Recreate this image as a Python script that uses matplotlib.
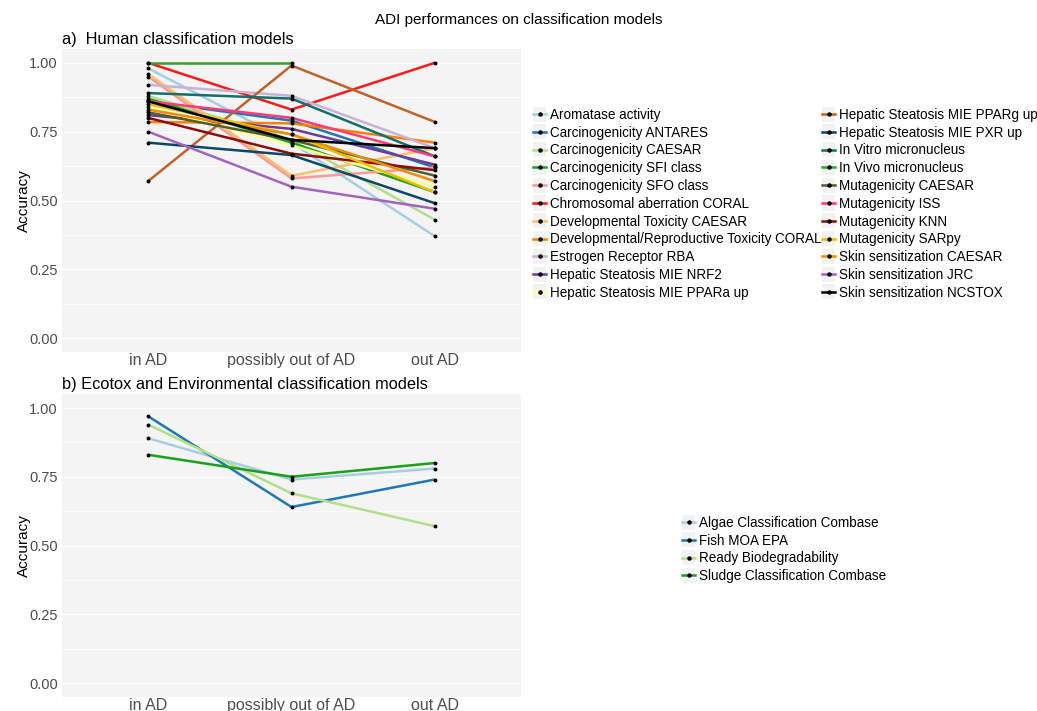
import matplotlib
matplotlib.use("Agg")
import matplotlib.pyplot as plt
import numpy as np
from matplotlib.lines import Line2D
from matplotlib.patches import Rectangle
from matplotlib.legend_handler import HandlerLine2D

plt.rcParams['font.family'] = ['Liberation Sans', 'DejaVu Sans']

categories = ["in AD", "possibly out of AD", "out AD"]

# a) human models: accuracy in AD / possibly out of AD / out AD
human_names = [
    "Aromatase activity", "Carcinogenicity ANTARES", "Carcinogenicity CAESAR",
    "Carcinogenicity SFI class", "Carcinogenicity SFO class",
    "Chromosomal aberration CORAL", "Developmental Toxicity CAESAR",
    "Developmental/Reproductive Toxicity CORAL", "Estrogen Receptor RBA",
    "Hepatic Steatosis MIE NRF2", "Hepatic Steatosis MIE PPARa up",
    "Hepatic Steatosis MIE PPARg up", "Hepatic Steatosis MIE PXR up",
    "In Vitro micronucleus", "In Vivo micronucleus", "Mutagenicity CAESAR",
    "Mutagenicity ISS", "Mutagenicity KNN", "Mutagenicity SARpy",
    "Skin sensitization CAESAR", "Skin sensitization JRC",
    "Skin sensitization NCSTOX",
]
human_in = [0.98, 0.86, 0.88, 0.87, 0.95, 1.00, 0.96, 0.785, 0.92, 0.81, 0.84,
            0.57, 0.71, 0.89, 1.00, 0.82, 0.86, 0.80, 0.85, 0.83, 0.75, 0.86]
human_pos = [0.71, 0.79, 0.72, 0.71, 0.58, 0.83, 0.59, 0.78, 0.88, 0.76, 0.70,
             0.99, 0.665, 0.87, 1.00, 0.72, 0.80, 0.67, 0.74, 0.74, 0.55, 0.72]
human_out = [0.37, 0.62, 0.43, 0.53, 0.62, 1.00, 0.69, 0.71, 0.69, 0.63, 0.55,
             0.785, 0.49, 0.66, np.nan, 0.59, 0.66, 0.61, 0.53, 0.57, 0.47, 0.69]
human_colors = [
    "#a6cee3", "#1f78b4", "#b2df8a", "#1f9e1f", "#fb9a99", "#ff1a1a",
    "#fdbf6f", "#ff7f00", "#cab2d6", "#6a3d9a", "#ffff99", "#c0622a",
    "#0b4866", "#12706a", "#33a02c", "#4f5f30", "#ff3a7a", "#8b0d0d",
    "#e6c000", "#f08c00", "#a463bf", "#000000",
]

# b) ecotox / environmental models
eco_names = ["Algae Classification Combase", "Fish MOA EPA",
             "Ready Biodegradability", "Sludge Classification Combase"]
eco_in = [0.89, 0.97, 0.94, 0.83]
eco_pos = [0.74, 0.64, 0.69, 0.75]
eco_out = [0.78, 0.74, 0.57, 0.80]
eco_colors = ["#a6cee3", "#1f78b4", "#b2df8a", "#1aa01a"]


class KeyHandler(HandlerLine2D):
    def create_artists(self, legend, orig_handle, xdescent, ydescent,
                       width, height, fontsize, trans):
        bg = Rectangle((-xdescent, -ydescent - 2.0), width, height + 4,
                       facecolor="#f2f2f2", edgecolor="none", transform=trans)
        arts = super().create_artists(legend, orig_handle, xdescent, ydescent,
                                      width, height, fontsize, trans)
        return [bg] + list(arts)


def draw_panel(ax, names, a, b, c, colors):
    x = np.arange(len(categories))
    for n, v1, v2, v3, col in zip(names, a, b, c, colors):
        y = np.array([v1, v2, v3], dtype=float)
        ax.plot(x, y, color=col, lw=1.8, solid_capstyle='butt', zorder=2)
        ax.scatter(x, y, s=8, color="black", zorder=3, linewidths=0)
    ax.set_facecolor("#f4f4f4")
    ax.set_xlim(-0.6, 2.6)
    ax.set_ylim(-0.05, 1.05)
    ax.set_xticks(x)
    ax.set_xticklabels(categories)
    ax.set_yticks([0, 0.25, 0.5, 0.75, 1.0])
    ax.set_yticklabels(["0.00", "0.25", "0.50", "0.75", "1.00"])
    ax.set_yticks([0.125, 0.375, 0.625, 0.875], minor=True)
    ax.grid(True, which='major', axis='y', color='white', lw=0.7, zorder=0)
    ax.grid(True, which='minor', axis='y', color='white', lw=0.5, zorder=0)
    ax.set_axisbelow(True)
    for s in ax.spines.values():
        s.set_visible(False)
    ax.tick_params(axis='both', which='both', length=0, labelsize=10.5,
                   labelcolor="#4d4d4d", pad=3)
    ax.tick_params(axis='x', labelsize=11.5, pad=1)
    ax.set_ylabel("Accuracy", fontsize=11, labelpad=-1)


def make_handles(colors):
    return [Line2D([], [], color=c, lw=1.8, marker='o', markersize=2.2,
                   markerfacecolor='black', markeredgecolor='black')
            for c in colors]


fig = plt.figure(figsize=(10.37, 7.11), dpi=100)
ax1 = fig.add_axes([0.0598, 0.5049, 0.4426, 0.4262])
ax2 = fig.add_axes([0.0598, 0.0200, 0.4426, 0.4255])

draw_panel(ax1, human_names, human_in, human_pos, human_out, human_colors)
draw_panel(ax2, eco_names, eco_in, eco_pos, eco_out, eco_colors)

ax1.set_title("a)  Human classification models", loc='left', fontsize=11.8,
              pad=3.5)
ax2.set_title("b) Ecotox and Environmental classification models", loc='left',
              fontsize=11.8, pad=3.5)
fig.text(0.5, 1 - 20 / 711, "ADI performances on classification models",
         ha='center', va='center', fontsize=11)

leg_kw = dict(frameon=False, fontsize=9.75, handlelength=1.0,
              handletextpad=0.3, labelspacing=0.28, borderpad=0,
              handler_map={Line2D: KeyHandler()})
fig.legend(make_handles(human_colors), human_names, ncol=2,
           loc='upper left', bbox_to_anchor=(526 / 1037, 1 - 101 / 711),
           columnspacing=0.0, **leg_kw)
fig.legend(make_handles(eco_colors), eco_names, ncol=1,
           loc='upper left', bbox_to_anchor=(675 / 1037, 1 - 509 / 711),
           **leg_kw)

fig.savefig("out.png", dpi=100)
